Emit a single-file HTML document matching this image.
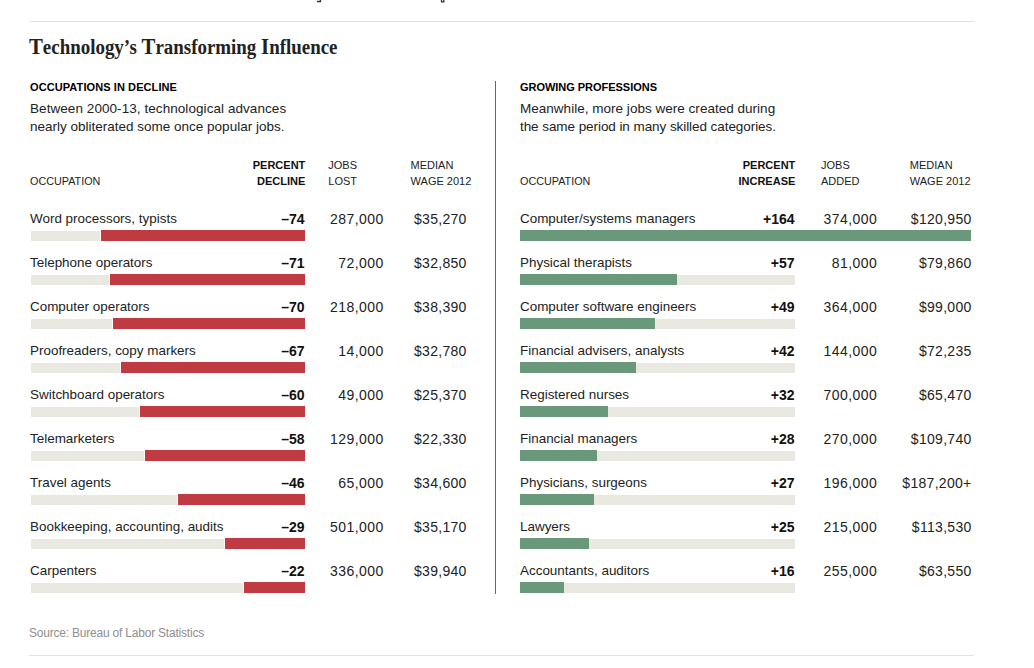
<!DOCTYPE html>
<html><head><meta charset="utf-8"><style>
html,body{margin:0;padding:0;background:#fff;}
body{width:1034px;height:668px;position:relative;overflow:hidden;font-family:"Liberation Sans", sans-serif;}
.t{position:absolute;white-space:nowrap;}
.r{position:absolute;}
</style></head><body>
<div class="r" style="left:29px;top:21px;width:945px;height:1px;background:#e2e2e2;"></div>
<div class="r" style="left:29px;top:655px;width:945px;height:1px;background:#e2e2e2;"></div>
<svg style="position:absolute;left:0;top:0" width="1034" height="4"><path d="M317 1.5H320.5V0" stroke="#333" stroke-width="1.3" fill="none"/><path d="M441.5 0V1.8H443.8V0" stroke="#333" stroke-width="1.3" fill="none"/></svg>
<div class="t" style="left:29px;top:37.35px;font-family:'Liberation Serif', serif;font-size:20.6px;line-height:20.6px;font-weight:700;color:#222;transform-origin:0 0;transform:scaleX(0.919)"><span style="font-size:22.6px">T</span>echnology’s <span style="font-size:22.6px">T</span>ransforming <span style="font-size:22.6px">I</span>nfluence</div>
<div class="r" style="left:495px;top:81px;width:1px;height:513px;background:#666;"></div>
<div class="t" style="left:30px;top:81.69px;font-size:11px;line-height:11px;font-weight:700;color:#000;letter-spacing:0.09px">OCCUPATIONS IN DECLINE</div>
<div class="t" style="left:30px;top:101.57px;font-size:13.5px;line-height:13.5px;font-weight:400;color:#222;letter-spacing:0.065px">Between 2000-13, technological advances</div>
<div class="t" style="left:30px;top:119.57px;font-size:13.5px;line-height:13.5px;font-weight:400;color:#222;letter-spacing:0px">nearly obliterated some once popular jobs.</div>
<div class="t" style="left:30px;top:176.06px;font-size:10.8px;line-height:10.8px;font-weight:400;color:#222;">OCCUPATION</div>
<div class="t" style="right:728.7px;text-align:right;top:160.29px;font-size:11px;line-height:11px;font-weight:700;color:#111;">PERCENT</div>
<div class="t" style="right:728.7px;text-align:right;top:176.29px;font-size:11px;line-height:11px;font-weight:700;color:#111;">DECLINE</div>
<div class="t" style="left:328.3px;top:160.29px;font-size:11px;line-height:11px;font-weight:400;color:#222;">JOBS</div>
<div class="t" style="left:328.3px;top:176.29px;font-size:11px;line-height:11px;font-weight:400;color:#222;">LOST</div>
<div class="t" style="left:410.6px;top:160.29px;font-size:11px;line-height:11px;font-weight:400;color:#222;">MEDIAN</div>
<div class="t" style="left:410.6px;top:176.29px;font-size:11px;line-height:11px;font-weight:400;color:#222;">WAGE 2012</div>
<div class="t" style="left:30px;top:211.61px;font-size:13.45px;line-height:13.45px;font-weight:400;color:#222;">Word processors, typists</div>
<div class="t" style="right:729.5px;text-align:right;top:211.65px;font-size:14px;line-height:14px;font-weight:700;color:#111;">–74</div>
<div class="t" style="right:650.7px;text-align:right;top:211.65px;font-size:14px;line-height:14px;font-weight:400;color:#222;letter-spacing:0.45px;margin-right:-0.45px">287,000</div>
<div class="t" style="right:567.6px;text-align:right;top:211.65px;font-size:14px;line-height:14px;font-weight:400;color:#222;letter-spacing:0.3px;margin-right:-0.3px">$35,270</div>
<div class="r" style="left:31px;top:231px;width:274px;height:10px;background:#e9e8e1;"></div>
<div class="r" style="left:100px;top:230px;width:205px;height:11px;background:#bf3b41;border-left:1px solid #fff;box-sizing:border-box"></div>
<div class="t" style="left:30px;top:255.61px;font-size:13.45px;line-height:13.45px;font-weight:400;color:#222;">Telephone operators</div>
<div class="t" style="right:729.5px;text-align:right;top:255.65px;font-size:14px;line-height:14px;font-weight:700;color:#111;">–71</div>
<div class="t" style="right:650.7px;text-align:right;top:255.65px;font-size:14px;line-height:14px;font-weight:400;color:#222;letter-spacing:0.45px;margin-right:-0.45px">72,000</div>
<div class="t" style="right:567.6px;text-align:right;top:255.65px;font-size:14px;line-height:14px;font-weight:400;color:#222;letter-spacing:0.3px;margin-right:-0.3px">$32,850</div>
<div class="r" style="left:31px;top:275px;width:274px;height:10px;background:#e9e8e1;"></div>
<div class="r" style="left:109px;top:274px;width:196px;height:11px;background:#bf3b41;border-left:1px solid #fff;box-sizing:border-box"></div>
<div class="t" style="left:30px;top:299.61px;font-size:13.45px;line-height:13.45px;font-weight:400;color:#222;">Computer operators</div>
<div class="t" style="right:729.5px;text-align:right;top:299.65px;font-size:14px;line-height:14px;font-weight:700;color:#111;">–70</div>
<div class="t" style="right:650.7px;text-align:right;top:299.65px;font-size:14px;line-height:14px;font-weight:400;color:#222;letter-spacing:0.45px;margin-right:-0.45px">218,000</div>
<div class="t" style="right:567.6px;text-align:right;top:299.65px;font-size:14px;line-height:14px;font-weight:400;color:#222;letter-spacing:0.3px;margin-right:-0.3px">$38,390</div>
<div class="r" style="left:31px;top:319px;width:274px;height:10px;background:#e9e8e1;"></div>
<div class="r" style="left:112px;top:318px;width:193px;height:11px;background:#bf3b41;border-left:1px solid #fff;box-sizing:border-box"></div>
<div class="t" style="left:30px;top:343.61px;font-size:13.45px;line-height:13.45px;font-weight:400;color:#222;">Proofreaders, copy markers</div>
<div class="t" style="right:729.5px;text-align:right;top:343.65px;font-size:14px;line-height:14px;font-weight:700;color:#111;">–67</div>
<div class="t" style="right:650.7px;text-align:right;top:343.65px;font-size:14px;line-height:14px;font-weight:400;color:#222;letter-spacing:0.45px;margin-right:-0.45px">14,000</div>
<div class="t" style="right:567.6px;text-align:right;top:343.65px;font-size:14px;line-height:14px;font-weight:400;color:#222;letter-spacing:0.3px;margin-right:-0.3px">$32,780</div>
<div class="r" style="left:31px;top:363px;width:274px;height:10px;background:#e9e8e1;"></div>
<div class="r" style="left:120px;top:362px;width:185px;height:11px;background:#bf3b41;border-left:1px solid #fff;box-sizing:border-box"></div>
<div class="t" style="left:30px;top:387.61px;font-size:13.45px;line-height:13.45px;font-weight:400;color:#222;">Switchboard operators</div>
<div class="t" style="right:729.5px;text-align:right;top:387.65px;font-size:14px;line-height:14px;font-weight:700;color:#111;">–60</div>
<div class="t" style="right:650.7px;text-align:right;top:387.65px;font-size:14px;line-height:14px;font-weight:400;color:#222;letter-spacing:0.45px;margin-right:-0.45px">49,000</div>
<div class="t" style="right:567.6px;text-align:right;top:387.65px;font-size:14px;line-height:14px;font-weight:400;color:#222;letter-spacing:0.3px;margin-right:-0.3px">$25,370</div>
<div class="r" style="left:31px;top:407px;width:274px;height:10px;background:#e9e8e1;"></div>
<div class="r" style="left:139px;top:406px;width:166px;height:11px;background:#bf3b41;border-left:1px solid #fff;box-sizing:border-box"></div>
<div class="t" style="left:30px;top:431.61px;font-size:13.45px;line-height:13.45px;font-weight:400;color:#222;">Telemarketers</div>
<div class="t" style="right:729.5px;text-align:right;top:431.65px;font-size:14px;line-height:14px;font-weight:700;color:#111;">–58</div>
<div class="t" style="right:650.7px;text-align:right;top:431.65px;font-size:14px;line-height:14px;font-weight:400;color:#222;letter-spacing:0.45px;margin-right:-0.45px">129,000</div>
<div class="t" style="right:567.6px;text-align:right;top:431.65px;font-size:14px;line-height:14px;font-weight:400;color:#222;letter-spacing:0.3px;margin-right:-0.3px">$22,330</div>
<div class="r" style="left:31px;top:451px;width:274px;height:10px;background:#e9e8e1;"></div>
<div class="r" style="left:144px;top:450px;width:161px;height:11px;background:#bf3b41;border-left:1px solid #fff;box-sizing:border-box"></div>
<div class="t" style="left:30px;top:475.61px;font-size:13.45px;line-height:13.45px;font-weight:400;color:#222;">Travel agents</div>
<div class="t" style="right:729.5px;text-align:right;top:475.65px;font-size:14px;line-height:14px;font-weight:700;color:#111;">–46</div>
<div class="t" style="right:650.7px;text-align:right;top:475.65px;font-size:14px;line-height:14px;font-weight:400;color:#222;letter-spacing:0.45px;margin-right:-0.45px">65,000</div>
<div class="t" style="right:567.6px;text-align:right;top:475.65px;font-size:14px;line-height:14px;font-weight:400;color:#222;letter-spacing:0.3px;margin-right:-0.3px">$34,600</div>
<div class="r" style="left:31px;top:495px;width:274px;height:10px;background:#e9e8e1;"></div>
<div class="r" style="left:177px;top:494px;width:128px;height:11px;background:#bf3b41;border-left:1px solid #fff;box-sizing:border-box"></div>
<div class="t" style="left:30px;top:519.61px;font-size:13.45px;line-height:13.45px;font-weight:400;color:#222;">Bookkeeping, accounting, audits</div>
<div class="t" style="right:729.5px;text-align:right;top:519.65px;font-size:14px;line-height:14px;font-weight:700;color:#111;">–29</div>
<div class="t" style="right:650.7px;text-align:right;top:519.65px;font-size:14px;line-height:14px;font-weight:400;color:#222;letter-spacing:0.45px;margin-right:-0.45px">501,000</div>
<div class="t" style="right:567.6px;text-align:right;top:519.65px;font-size:14px;line-height:14px;font-weight:400;color:#222;letter-spacing:0.3px;margin-right:-0.3px">$35,170</div>
<div class="r" style="left:31px;top:539px;width:274px;height:10px;background:#e9e8e1;"></div>
<div class="r" style="left:224px;top:538px;width:81px;height:11px;background:#bf3b41;border-left:1px solid #fff;box-sizing:border-box"></div>
<div class="t" style="left:30px;top:563.61px;font-size:13.45px;line-height:13.45px;font-weight:400;color:#222;">Carpenters</div>
<div class="t" style="right:729.5px;text-align:right;top:563.65px;font-size:14px;line-height:14px;font-weight:700;color:#111;">–22</div>
<div class="t" style="right:650.7px;text-align:right;top:563.65px;font-size:14px;line-height:14px;font-weight:400;color:#222;letter-spacing:0.45px;margin-right:-0.45px">336,000</div>
<div class="t" style="right:567.6px;text-align:right;top:563.65px;font-size:14px;line-height:14px;font-weight:400;color:#222;letter-spacing:0.3px;margin-right:-0.3px">$39,940</div>
<div class="r" style="left:31px;top:583px;width:274px;height:10px;background:#e9e8e1;"></div>
<div class="r" style="left:243px;top:582px;width:62px;height:11px;background:#bf3b41;border-left:1px solid #fff;box-sizing:border-box"></div>
<div class="t" style="left:520px;top:81.69px;font-size:11px;line-height:11px;font-weight:700;color:#000;letter-spacing:-0.03px">GROWING PROFESSIONS</div>
<div class="t" style="left:520px;top:101.57px;font-size:13.5px;line-height:13.5px;font-weight:400;color:#222;letter-spacing:0.02px">Meanwhile, more jobs were created during</div>
<div class="t" style="left:520px;top:119.57px;font-size:13.5px;line-height:13.5px;font-weight:400;color:#222;letter-spacing:-0.07px">the same period in many skilled categories.</div>
<div class="t" style="left:520px;top:176.06px;font-size:10.8px;line-height:10.8px;font-weight:400;color:#222;">OCCUPATION</div>
<div class="t" style="right:238.70000000000005px;text-align:right;top:160.29px;font-size:11px;line-height:11px;font-weight:700;color:#111;">PERCENT</div>
<div class="t" style="right:238.70000000000005px;text-align:right;top:176.29px;font-size:11px;line-height:11px;font-weight:700;color:#111;">INCREASE</div>
<div class="t" style="left:821px;top:160.29px;font-size:11px;line-height:11px;font-weight:400;color:#222;">JOBS</div>
<div class="t" style="left:821px;top:176.29px;font-size:11px;line-height:11px;font-weight:400;color:#222;">ADDED</div>
<div class="t" style="left:909.8px;top:160.29px;font-size:11px;line-height:11px;font-weight:400;color:#222;">MEDIAN</div>
<div class="t" style="left:909.8px;top:176.29px;font-size:11px;line-height:11px;font-weight:400;color:#222;">WAGE 2012</div>
<div class="t" style="left:520px;top:211.61px;font-size:13.45px;line-height:13.45px;font-weight:400;color:#222;">Computer/systems managers</div>
<div class="t" style="right:239.5px;text-align:right;top:211.65px;font-size:14px;line-height:14px;font-weight:700;color:#111;">+164</div>
<div class="t" style="right:157.20000000000005px;text-align:right;top:211.65px;font-size:14px;line-height:14px;font-weight:400;color:#222;letter-spacing:0.45px;margin-right:-0.45px">374,000</div>
<div class="t" style="right:62.700000000000045px;text-align:right;top:211.65px;font-size:14px;line-height:14px;font-weight:400;color:#222;letter-spacing:0.3px;margin-right:-0.3px">$120,950</div>
<div class="r" style="left:520px;top:231px;width:275px;height:10px;background:#e9e8e1;"></div>
<div class="r" style="left:520px;top:230px;width:451px;height:11px;background:#6a987a;"></div>
<div class="t" style="left:520px;top:255.61px;font-size:13.45px;line-height:13.45px;font-weight:400;color:#222;">Physical therapists</div>
<div class="t" style="right:239.5px;text-align:right;top:255.65px;font-size:14px;line-height:14px;font-weight:700;color:#111;">+57</div>
<div class="t" style="right:157.20000000000005px;text-align:right;top:255.65px;font-size:14px;line-height:14px;font-weight:400;color:#222;letter-spacing:0.45px;margin-right:-0.45px">81,000</div>
<div class="t" style="right:62.700000000000045px;text-align:right;top:255.65px;font-size:14px;line-height:14px;font-weight:400;color:#222;letter-spacing:0.3px;margin-right:-0.3px">$79,860</div>
<div class="r" style="left:520px;top:275px;width:275px;height:10px;background:#e9e8e1;"></div>
<div class="r" style="left:520px;top:274px;width:157px;height:11px;background:#6a987a;"></div>
<div class="t" style="left:520px;top:299.61px;font-size:13.45px;line-height:13.45px;font-weight:400;color:#222;">Computer software engineers</div>
<div class="t" style="right:239.5px;text-align:right;top:299.65px;font-size:14px;line-height:14px;font-weight:700;color:#111;">+49</div>
<div class="t" style="right:157.20000000000005px;text-align:right;top:299.65px;font-size:14px;line-height:14px;font-weight:400;color:#222;letter-spacing:0.45px;margin-right:-0.45px">364,000</div>
<div class="t" style="right:62.700000000000045px;text-align:right;top:299.65px;font-size:14px;line-height:14px;font-weight:400;color:#222;letter-spacing:0.3px;margin-right:-0.3px">$99,000</div>
<div class="r" style="left:520px;top:319px;width:275px;height:10px;background:#e9e8e1;"></div>
<div class="r" style="left:520px;top:318px;width:135px;height:11px;background:#6a987a;"></div>
<div class="t" style="left:520px;top:343.61px;font-size:13.45px;line-height:13.45px;font-weight:400;color:#222;">Financial advisers, analysts</div>
<div class="t" style="right:239.5px;text-align:right;top:343.65px;font-size:14px;line-height:14px;font-weight:700;color:#111;">+42</div>
<div class="t" style="right:157.20000000000005px;text-align:right;top:343.65px;font-size:14px;line-height:14px;font-weight:400;color:#222;letter-spacing:0.45px;margin-right:-0.45px">144,000</div>
<div class="t" style="right:62.700000000000045px;text-align:right;top:343.65px;font-size:14px;line-height:14px;font-weight:400;color:#222;letter-spacing:0.3px;margin-right:-0.3px">$72,235</div>
<div class="r" style="left:520px;top:363px;width:275px;height:10px;background:#e9e8e1;"></div>
<div class="r" style="left:520px;top:362px;width:116px;height:11px;background:#6a987a;"></div>
<div class="t" style="left:520px;top:387.61px;font-size:13.45px;line-height:13.45px;font-weight:400;color:#222;">Registered nurses</div>
<div class="t" style="right:239.5px;text-align:right;top:387.65px;font-size:14px;line-height:14px;font-weight:700;color:#111;">+32</div>
<div class="t" style="right:157.20000000000005px;text-align:right;top:387.65px;font-size:14px;line-height:14px;font-weight:400;color:#222;letter-spacing:0.45px;margin-right:-0.45px">700,000</div>
<div class="t" style="right:62.700000000000045px;text-align:right;top:387.65px;font-size:14px;line-height:14px;font-weight:400;color:#222;letter-spacing:0.3px;margin-right:-0.3px">$65,470</div>
<div class="r" style="left:520px;top:407px;width:275px;height:10px;background:#e9e8e1;"></div>
<div class="r" style="left:520px;top:406px;width:88px;height:11px;background:#6a987a;"></div>
<div class="t" style="left:520px;top:431.61px;font-size:13.45px;line-height:13.45px;font-weight:400;color:#222;">Financial managers</div>
<div class="t" style="right:239.5px;text-align:right;top:431.65px;font-size:14px;line-height:14px;font-weight:700;color:#111;">+28</div>
<div class="t" style="right:157.20000000000005px;text-align:right;top:431.65px;font-size:14px;line-height:14px;font-weight:400;color:#222;letter-spacing:0.45px;margin-right:-0.45px">270,000</div>
<div class="t" style="right:62.700000000000045px;text-align:right;top:431.65px;font-size:14px;line-height:14px;font-weight:400;color:#222;letter-spacing:0.3px;margin-right:-0.3px">$109,740</div>
<div class="r" style="left:520px;top:451px;width:275px;height:10px;background:#e9e8e1;"></div>
<div class="r" style="left:520px;top:450px;width:77px;height:11px;background:#6a987a;"></div>
<div class="t" style="left:520px;top:475.61px;font-size:13.45px;line-height:13.45px;font-weight:400;color:#222;">Physicians, surgeons</div>
<div class="t" style="right:239.5px;text-align:right;top:475.65px;font-size:14px;line-height:14px;font-weight:700;color:#111;">+27</div>
<div class="t" style="right:157.20000000000005px;text-align:right;top:475.65px;font-size:14px;line-height:14px;font-weight:400;color:#222;letter-spacing:0.45px;margin-right:-0.45px">196,000</div>
<div class="t" style="right:62.700000000000045px;text-align:right;top:475.65px;font-size:14px;line-height:14px;font-weight:400;color:#222;letter-spacing:0.3px;margin-right:-0.3px">$187,200+</div>
<div class="r" style="left:520px;top:495px;width:275px;height:10px;background:#e9e8e1;"></div>
<div class="r" style="left:520px;top:494px;width:74px;height:11px;background:#6a987a;"></div>
<div class="t" style="left:520px;top:519.61px;font-size:13.45px;line-height:13.45px;font-weight:400;color:#222;">Lawyers</div>
<div class="t" style="right:239.5px;text-align:right;top:519.65px;font-size:14px;line-height:14px;font-weight:700;color:#111;">+25</div>
<div class="t" style="right:157.20000000000005px;text-align:right;top:519.65px;font-size:14px;line-height:14px;font-weight:400;color:#222;letter-spacing:0.45px;margin-right:-0.45px">215,000</div>
<div class="t" style="right:62.700000000000045px;text-align:right;top:519.65px;font-size:14px;line-height:14px;font-weight:400;color:#222;letter-spacing:0.3px;margin-right:-0.3px">$113,530</div>
<div class="r" style="left:520px;top:539px;width:275px;height:10px;background:#e9e8e1;"></div>
<div class="r" style="left:520px;top:538px;width:69px;height:11px;background:#6a987a;"></div>
<div class="t" style="left:520px;top:563.61px;font-size:13.45px;line-height:13.45px;font-weight:400;color:#222;">Accountants, auditors</div>
<div class="t" style="right:239.5px;text-align:right;top:563.65px;font-size:14px;line-height:14px;font-weight:700;color:#111;">+16</div>
<div class="t" style="right:157.20000000000005px;text-align:right;top:563.65px;font-size:14px;line-height:14px;font-weight:400;color:#222;letter-spacing:0.45px;margin-right:-0.45px">255,000</div>
<div class="t" style="right:62.700000000000045px;text-align:right;top:563.65px;font-size:14px;line-height:14px;font-weight:400;color:#222;letter-spacing:0.3px;margin-right:-0.3px">$63,550</div>
<div class="r" style="left:520px;top:583px;width:275px;height:10px;background:#e9e8e1;"></div>
<div class="r" style="left:520px;top:582px;width:44px;height:11px;background:#6a987a;"></div>
<div class="t" style="left:29px;top:626.84px;font-size:12px;line-height:12px;font-weight:400;color:#8f8f8f;letter-spacing:-0.21px">Source: Bureau of Labor Statistics</div>
</body></html>
